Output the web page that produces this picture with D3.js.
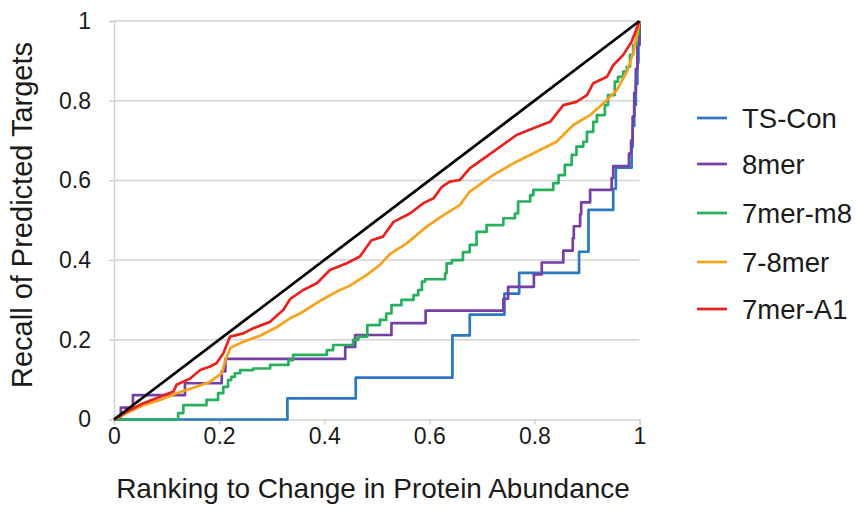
<!DOCTYPE html>
<html><head><meta charset="utf-8">
<script src="https://cdn.jsdelivr.net/npm/d3@7"></script>
<style>body{margin:0;background:#fff;} svg{display:block;font-family:Arial,"Liberation Sans",sans-serif;}</style>
</head><body><svg id="c" width="856" height="510"></svg>
<script>
const seriesNames = ["TS-Con","8mer","7mer-m8","7-8mer","7mer-A1"];
const seriesColors = ["#2b77c0","#7540a6","#27b05c","#f6a21d","#e8231f"];
const xTicks = [0,0.2,0.4,0.6,0.8,1];
const yTicks = [0,0.2,0.4,0.6,0.8,1];
const xTickLabels = ["0","0.2","0.4","0.6","0.8","1"];
const yTickLabels = ["0","0.2","0.4","0.6","0.8","1"];
const xTitle = "Ranking to Change in Protein Abundance";
const yTitle = "Recall of Predicted Targets";
const diagonal = [[0,0],[1,1]];

// step series: [ranking, recall after step]
const tsCon = [[0,0],[0.33,0.053],[0.46,0.105],[0.644,0.211],[0.677,0.263],[0.743,0.316],[0.771,0.368],[0.885,0.421],[0.903,0.526],[0.95,0.579],[0.955,0.632],[0.985,0.684],[0.987,0.737],[0.99,0.789],[0.993,0.842],[0.996,0.895],[0.998,0.947],[1,1]];
const mer8 = [[0,0],[0.013,0.030],[0.036,0.061],[0.135,0.091],[0.205,0.121],[0.212,0.152],[0.44,0.182],[0.459,0.212],[0.528,0.242],[0.593,0.273],[0.741,0.303],[0.75,0.333],[0.799,0.364],[0.814,0.394],[0.855,0.424],[0.873,0.455],[0.875,0.485],[0.887,0.515],[0.889,0.545],[0.906,0.576],[0.947,0.606],[0.95,0.636],[0.98,0.667],[0.984,0.7],[0.987,0.76],[0.99,0.82],[0.993,0.88],[0.996,0.94],[1,1]];
const mer7m8 = [[0,0],[0.122,0.016],[0.132,0.036],[0.176,0.049],[0.198,0.066],[0.208,0.082],[0.217,0.099],[0.223,0.107],[0.23,0.116],[0.24,0.124],[0.265,0.128],[0.297,0.137],[0.332,0.149],[0.341,0.162],[0.405,0.174],[0.417,0.187],[0.455,0.2],[0.465,0.208],[0.482,0.237],[0.506,0.25],[0.518,0.266],[0.528,0.287],[0.547,0.3],[0.57,0.312],[0.579,0.325],[0.586,0.346],[0.592,0.352],[0.63,0.367],[0.633,0.392],[0.643,0.4],[0.664,0.42],[0.677,0.438],[0.69,0.471],[0.709,0.488],[0.741,0.505],[0.763,0.517],[0.769,0.547],[0.792,0.563],[0.798,0.576],[0.836,0.593],[0.846,0.613],[0.858,0.639],[0.871,0.664],[0.88,0.685],[0.893,0.697],[0.9,0.722],[0.912,0.747],[0.919,0.764],[0.934,0.789],[0.94,0.814],[0.953,0.848],[0.959,0.86],[0.969,0.873],[0.976,0.885],[0.982,0.915],[0.988,0.94],[0.994,0.964],[0.998,0.994],[1,1]];
// fine-grained series: [ranking, recall]
const mer78 = [[0,0],[0.03,0.02],[0.056,0.036],[0.088,0.049],[0.119,0.066],[0.157,0.082],[0.183,0.095],[0.205,0.116],[0.212,0.15],[0.222,0.18],[0.246,0.195],[0.278,0.21],[0.31,0.232],[0.335,0.254],[0.354,0.266],[0.395,0.3],[0.424,0.321],[0.449,0.336],[0.481,0.363],[0.506,0.388],[0.525,0.415],[0.557,0.442],[0.595,0.484],[0.627,0.513],[0.658,0.538],[0.677,0.572],[0.722,0.614],[0.766,0.647],[0.804,0.672],[0.842,0.697],[0.874,0.739],[0.906,0.764],[0.931,0.793],[0.957,0.827],[0.976,0.873],[0.988,0.919],[1,1]];
const mer7A1 = [[0,0],[0.03,0.024],[0.056,0.041],[0.088,0.057],[0.113,0.07],[0.119,0.087],[0.145,0.103],[0.164,0.124],[0.183,0.133],[0.195,0.141],[0.208,0.166],[0.221,0.208],[0.246,0.216],[0.265,0.229],[0.297,0.245],[0.322,0.275],[0.335,0.302],[0.36,0.325],[0.386,0.342],[0.411,0.375],[0.443,0.392],[0.468,0.409],[0.49,0.45],[0.512,0.459],[0.532,0.496],[0.563,0.517],[0.589,0.543],[0.608,0.555],[0.624,0.584],[0.639,0.597],[0.658,0.601],[0.677,0.63],[0.722,0.672],[0.766,0.714],[0.798,0.731],[0.83,0.747],[0.855,0.789],[0.88,0.797],[0.9,0.814],[0.912,0.844],[0.938,0.86],[0.95,0.889],[0.969,0.915],[0.985,0.948],[1,1]];
const seriesData = [tsCon, mer8, mer7m8, mer78, mer7A1];
const seriesStep = [true, true, true, false, false];

const svg = d3.select("#c");
const x = d3.scaleLinear().domain([0,1]).range([114,639.5]);
const y = d3.scaleLinear().domain([0,1]).range([419.5,21]);
const grid = "#d2d2d2";
const txt = "#1a1a1a";

// gridlines
svg.append("g").selectAll("line").data(yTicks.filter(d=>d>0)).join("line")
  .attr("x1",x(0)).attr("x2",x(1)).attr("y1",d=>y(d)).attr("y2",d=>y(d))
  .attr("stroke",grid).attr("stroke-width",1.5);

// axes
const yAxis = d3.axisLeft(y).tickValues(yTicks).tickFormat((d,i)=>yTickLabels[i]).tickSize(5).tickPadding(18);
const gy = svg.append("g").attr("transform",`translate(${x(0)},0)`).call(yAxis);
const xAxis = d3.axisBottom(x).tickValues(xTicks).tickFormat((d,i)=>xTickLabels[i]).tickSize(5).tickPadding(3);
const gx = svg.append("g").attr("transform",`translate(0,${y(0)})`).call(xAxis);
[gx,gy].forEach(g=>{
  g.select(".domain").attr("stroke",grid).attr("stroke-width",1.5);
  g.selectAll(".tick line").attr("stroke",grid).attr("stroke-width",1.5);
  g.selectAll(".tick text").attr("fill",txt).style("font-size","23px").style("font-family","Arial, 'Liberation Sans', sans-serif");
});

// series
seriesData.forEach((data,i)=>{
  const line = d3.line().x(d=>x(d[0])).y(d=>y(d[1])).curve(seriesStep[i]?d3.curveStepAfter:d3.curveLinear);
  svg.append("path").datum(data).attr("d",line).attr("fill","none")
    .attr("stroke",seriesColors[i]).attr("stroke-width",2.7).attr("stroke-linejoin","round");
});
svg.append("path").datum(diagonal).attr("d",d3.line().x(d=>x(d[0])).y(d=>y(d[1])))
  .attr("stroke","#000").attr("stroke-width",2.7).attr("fill","none");

// titles
svg.append("text").attr("x",373).attr("y",488).attr("text-anchor","middle")
  .attr("dominant-baseline","central").attr("fill",txt).style("font-size","28px").text(xTitle);
svg.append("text").attr("transform","translate(22,215) rotate(-90)").attr("text-anchor","middle")
  .attr("dominant-baseline","central").attr("fill",txt).style("font-size","29px").text(yTitle);

// legend
const legY = [118,164,213,262,309];
const leg = svg.append("g").selectAll("g").data(seriesNames).join("g")
  .attr("transform",(d,i)=>`translate(697,${legY[i]})`);
leg.append("line").attr("x1",0).attr("x2",30).attr("stroke",(d,i)=>seriesColors[i]).attr("stroke-width",2.7);
leg.append("text").attr("x",45).attr("dominant-baseline","central").attr("fill",txt)
  .style("font-size","27.5px").text(d=>d);
</script></body></html>
